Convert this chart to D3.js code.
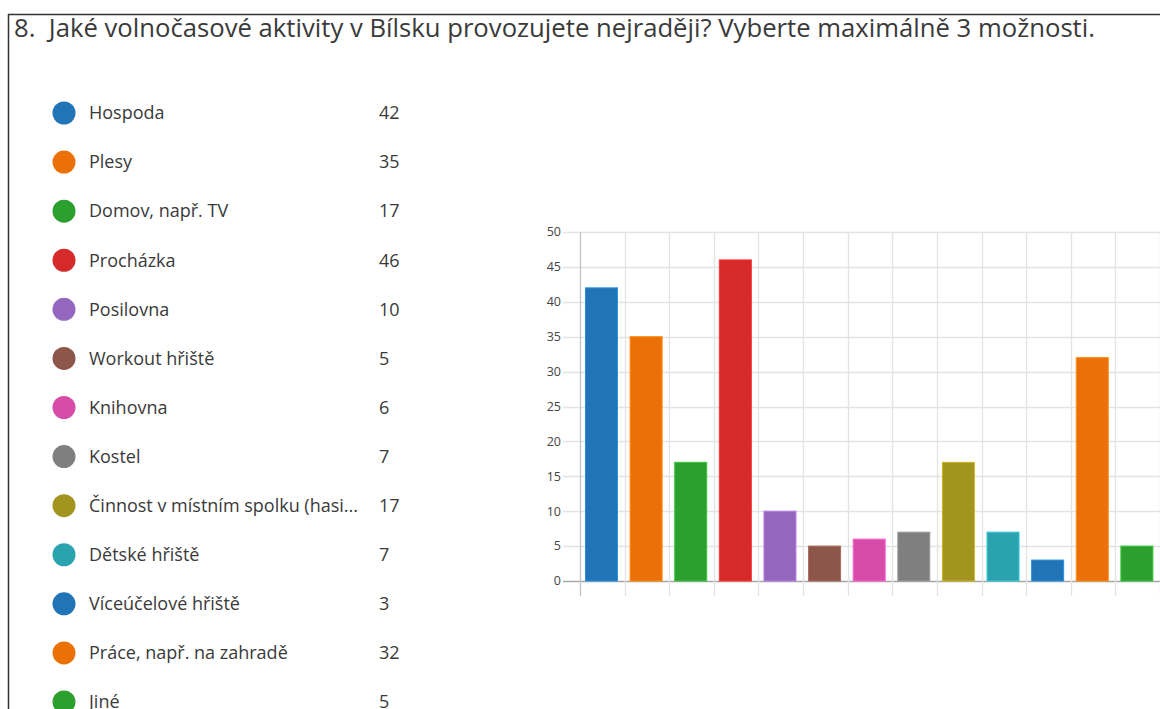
<!DOCTYPE html>
<html><head><meta charset="utf-8">
<script src="https://cdn.jsdelivr.net/npm/d3@7"></script>
<style>
html,body{margin:0;padding:0;background:#fff;}
svg{display:block;font-family:"Open Sans","Noto Sans",sans-serif;}
</style></head>
<body>
<svg id="c" width="1160" height="709"></svg>
<script>
const title = "8.  Jaké volnočasové aktivity v Bílsku provozujete nejraději? Vyberte maximálně 3 možnosti.";
const categories = ["Hospoda","Plesy","Domov, např. TV","Procházka","Posilovna","Workout hřiště","Knihovna","Kostel","Činnost v místním spolku (hasi...","Dětské hřiště","Víceúčelové hřiště","Práce, např. na zahradě","Jiné"];
const values = [42,35,17,46,10,5,6,7,17,7,3,32,5];
const colors = ["#2174b5","#eb7008","#2c9f2f","#d52a29","#9466bd","#8c564b","#d64ca8","#7f7f7f","#a3931f","#2aa3af","#2174b5","#eb7008","#2c9f2f"];
const yTicks = [0,5,10,15,20,25,30,35,40,45,50];

const svg = d3.select("#c");

// frame
svg.append("line").attr("x1",8.5).attr("x2",8.5).attr("y1",14).attr("y2",709).attr("stroke","#333").attr("stroke-width",1.5);
svg.append("line").attr("x1",8).attr("x2",1160).attr("y1",14.5).attr("y2",14.5).attr("stroke","#333").attr("stroke-width",1.5);

svg.append("text").attr("x",14).attr("y",37).attr("font-size",25.5).attr("fill","#3a3a3a")
  .attr("xml:space","preserve").style("white-space","pre")
  .attr("textLength",1081).attr("lengthAdjust","spacingAndGlyphs").text(title);

// legend
const leg = svg.append("g");
const rowY = d3.scaleLinear().domain([0,12]).range([113,702]);
categories.forEach((c,i)=>{
  const y = rowY(i);
  leg.append("circle").attr("cx",64).attr("cy",y).attr("r",11.5).attr("fill",colors[i]);
  leg.append("text").attr("x",89).attr("y",y).attr("dy","0.35em").attr("font-size",18).attr("fill","#3a3a3a")
    .attr("textLength", c.length>30 ? 269 : null).attr("lengthAdjust","spacingAndGlyphs").text(c);
  leg.append("text").attr("x",379).attr("y",y).attr("dy","0.35em").attr("font-size",18).attr("fill","#3a3a3a").text(values[i]);
});

// chart
const x = d3.scaleBand().domain(d3.range(categories.length)).range([580,1160]).paddingInner(0).paddingOuter(0);
const y = d3.scaleLinear().domain([0,50]).range([581,232]);

const g = svg.append("g");
g.selectAll(".hg").data(yTicks).join("line")
  .attr("x1",563).attr("x2",1160).attr("y1",d=>Math.round(y(d))+0.5).attr("y2",d=>Math.round(y(d))+0.5)
  .attr("stroke",d=>d===0?"#a8a8a8":"#e3e3e3").attr("stroke-width",1.3);
const vx = d3.range(categories.length+1).map(i=> i<categories.length ? x(i) : x(categories.length-1)+x.bandwidth());
g.selectAll(".vg").data(vx).join("line")
  .attr("x1",d=>Math.round(d)+0.5).attr("x2",d=>Math.round(d)+0.5).attr("y1",232).attr("y2",596)
  .attr("stroke",(d,i)=>i===0?"#c4c4c4":"#e3e3e3").attr("stroke-width",1.3);
g.selectAll(".yl").data(yTicks).join("text")
  .attr("x",561).attr("y",d=>y(d)).attr("dy","0.35em").attr("text-anchor","end")
  .attr("font-size",12.5).attr("fill","#444").text(d=>d);
const bw = 32;
g.selectAll(".bar").data(values).join("rect")
  .attr("x",(d,i)=>x(i)+5.5).attr("width",bw)
  .attr("y",d=>y(d)).attr("height",d=>y(0)-y(d))
  .attr("fill",(d,i)=>colors[i])
  .attr("stroke",(d,i)=>d3.color(colors[i]).brighter(0.6)).attr("stroke-width",1);
</script>
</body></html>
